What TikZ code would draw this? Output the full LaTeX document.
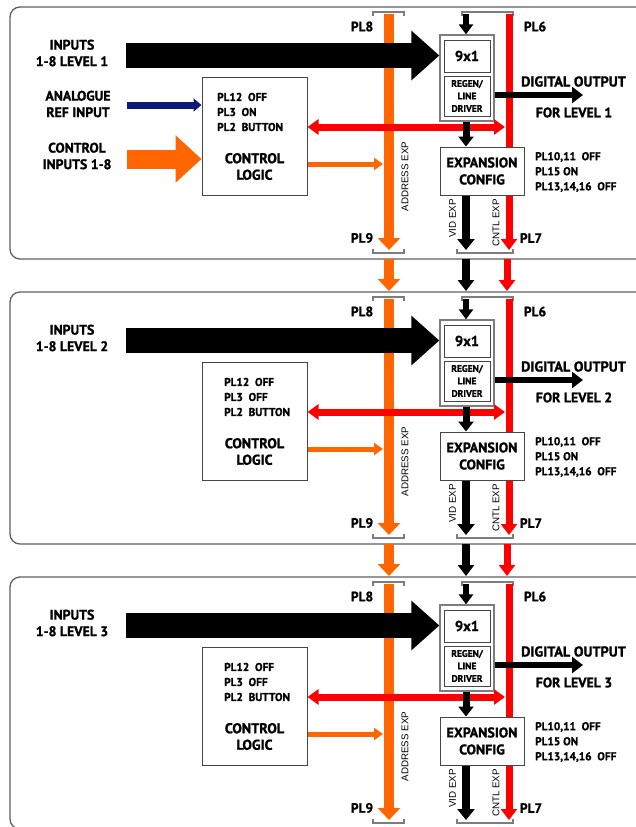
\documentclass[tikz,border=0pt]{standalone}
\usepackage{fontspec}
\setmainfont{PT Sans}[BoldFeatures={FakeBold=1.2}]
\newfontfamily\rotfont{Liberation Sans}
\usetikzlibrary{arrows.meta}
\definecolor{orng}{RGB}{255,102,0}
\definecolor{rd}{RGB}{255,0,0}
\definecolor{nvy}{RGB}{16,24,120}
\definecolor{framec}{RGB}{95,95,95}
\definecolor{brk}{RGB}{125,125,125}
\definecolor{boxc}{RGB}{70,70,70}
\tikzset{
  lbl/.style={font=\fontsize{13.8}{16.5}\selectfont\bfseries, align=center, inner sep=0pt},
  plbl/.style={font=\fontsize{13.5}{14}\selectfont\bfseries, inner sep=0pt},
  smalltxt/.style={font=\fontsize{11.3}{15}\selectfont\bfseries, align=left, anchor=west, inner sep=0pt},
  rottxt/.style={font=\rotfont\fontsize{9.8}{10}\selectfont, rotate=90, inner sep=0pt},
  boxn/.style={draw=boxc, fill=white, line width=1pt, inner sep=0pt},
  bracket/.style={draw=brk, line width=1.3pt},
  panel/.style={draw=framec, line width=1.3pt, rounded corners=10pt},
}
\begin{document}
\begin{tikzpicture}[x=1pt,y=-1pt]
\useasboundingbox (0,0) rectangle (636,827);
\clip (0,0) rectangle (636,827);
\foreach \i in {1,2,3}{
\begin{scope}[yshift={-(\i-1)*285pt}]
  % panel frame
  \draw[panel] (10,7) rectangle (680,259);
  % brackets
  \draw[bracket] (373,16) -- (373,12) -- (404,12) -- (404,16);
  \draw[bracket] (462,16) -- (462,12) -- (513,12) -- (513,16);
  \draw[bracket] (373,249) -- (373,253) -- (404,253) -- (404,249);
  \draw[bracket] (457,249) -- (457,253) -- (513,253) -- (513,249);
  % coordinates
  \coordinate (ot\i) at (389,14);
  \coordinate (ob\i) at (389,250);
  \coordinate (rt\i) at (509,14);
  \coordinate (rb\i) at (509,250);
  \coordinate (bt\i) at (466,14);
  \coordinate (vb\i) at (466,250);
  \coordinate (bs\i) at (126,55.5);
  \coordinate (rh\i) at (505,127);
  \coordinate (oa\i) at (383,164);
  \coordinate (do\i) at (583,95);
  % address exp bus
  \draw[orng, line width=10pt, -{Triangle[width=22pt,length=12pt]}] (ot\i) -- (ob\i);
  % labels
  \node[plbl] (pla\i) at (362,26.5) {PL8};
  \node[plbl] (plb\i) at (535,26.5) {PL6};
  \node[plbl] (plc\i) at (362,238) {PL9};
  \node[plbl] (pld\i) at (531,238) {PL7};
  \node[rottxt] (ae\i) at (405,176.5) {ADDRESS EXP};
  \node[rottxt] (ve\i) at (452.5,218.5) {VID EXP};
  \node[rottxt] (ce\i) at (496,223) {CNTL EXP};
  \node[lbl] (in\i) at (72,53) {INPUTS\\1-8 LEVEL \i};
  % boxes
  \node[boxn, minimum width=105pt, minimum height=118pt] (cl\i) at (254.5,136) {};
  \node[boxn, draw=brk, line width=1.3pt, minimum width=54pt, minimum height=86pt] (mx\i) at (467,78) {};
  \node[boxn, minimum width=46pt, minimum height=32pt, font=\fontsize{14.5}{15}\selectfont\bfseries] (nx\i) at (467,56) {9x1};
  \node[boxn, minimum width=46pt, minimum height=40pt, align=center, font=\fontsize{9.5}{12.5}\selectfont\bfseries] (rg\i) at (467,96) {REGEN/\\LINE\\DRIVER};
  % red control bus
  \draw[rd, line width=7pt] (rt\i) -- (rt\i |- 0,147);
  \node[boxn, minimum width=84pt, minimum height=48pt, align=center, font=\fontsize{14}{17}\selectfont\bfseries] (ex\i) at (482,171) {EXPANSION\\CONFIG};
  \draw[rd, line width=7pt, -{Triangle[width=16pt,length=11pt]}] (ex\i.south -| rt\i) -- (rb\i);
  % texts
  \node[lbl, font=\fontsize{14.2}{16.5}\selectfont\bfseries] (lg\i) at (254.5,166.5) {CONTROL\\LOGIC};
  \node[smalltxt] (px\i) at (535,172) {PL10,11 \ OFF\\PL15 ON\\PL13,14,16 \ OFF};
  \node[lbl, font=\fontsize{14.3}{16.5}\selectfont\bfseries] (dg\i) at (573.5,81.5) {DIGITAL OUTPUT};
  \node[lbl] (fl\i) at (574,112.5) {FOR LEVEL \i};
  % connectors
  \draw[rd, line width=7pt, {Triangle[width=15pt,length=11pt]}-{Triangle[width=15pt,length=11pt]}] (cl\i.east |- rh\i) -- (rh\i);
  \draw[orng, line width=5pt, -{Triangle[width=12pt,length=9pt]}] (cl\i.east |- oa\i) -- (oa\i);
  \draw[black, line width=25pt, -{Triangle[width=48pt,length=28pt]}] (bs\i) -- (mx\i.west |- bs\i);
  \draw[black, line width=6pt, -{Triangle[width=14pt,length=10pt]}] (bt\i) -- (bt\i |- mx\i.north);
  \draw[black, line width=7pt, -{Triangle[width=15pt,length=10pt]}] (bt\i |- mx\i.south) -- (bt\i |- ex\i.north);
  \draw[black, line width=8pt, -{Triangle[width=17pt,length=11pt]}] (bt\i |- ex\i.south) -- (vb\i);
  \draw[black, line width=6pt, -{Triangle[width=16pt,length=11pt]}] (mx\i.east |- do\i) -- (do\i);
  \ifnum\i<3
    \coordinate (ga\i) at (389,259);
    \coordinate (gb\i) at (389,291);
    \coordinate (gc\i) at (466,259);
    \coordinate (gd\i) at (466,291);
    \coordinate (ge\i) at (507,259);
    \coordinate (gf\i) at (507,291);
    \draw[orng, line width=10pt, -{Triangle[width=22pt,length=12pt]}] (ga\i) -- (gb\i);
    \draw[black, line width=8pt, -{Triangle[width=16pt,length=11pt]}] (gc\i) -- (gd\i);
    \draw[rd, line width=7pt, -{Triangle[width=16pt,length=11pt]}] (ge\i) -- (gf\i);
  \fi
\end{scope}
}
% switch settings texts
\node[smalltxt] (plt1) at (217,112) {PL12 \ OFF\\PL3 \ ON\\PL2 \ BUTTON};
\node[smalltxt] (plt2) at (224,397) {PL12 \ OFF\\PL3 \ OFF\\PL2 \ BUTTON};
\node[smalltxt] (plt3) at (224,682) {PL12 \ OFF\\PL3 \ OFF\\PL2 \ BUTTON};
% panel 1 extra inputs
\node[lbl] (an) at (78,104) {ANALOGUE\\REF INPUT};
\node[lbl] (ci) at (77,156) {CONTROL\\INPUTS 1-8};
\coordinate (nas) at (127,105);
\coordinate (ors) at (127,159);
\draw[nvy, line width=7pt, -{Triangle[width=13pt,length=8pt]}] (nas) -- (cl1.west |- nas);
\draw[orng, line width=19pt, -{Triangle[width=46pt,length=26pt]}] (ors) -- (cl1.west |- ors);
\end{tikzpicture}
\end{document}
